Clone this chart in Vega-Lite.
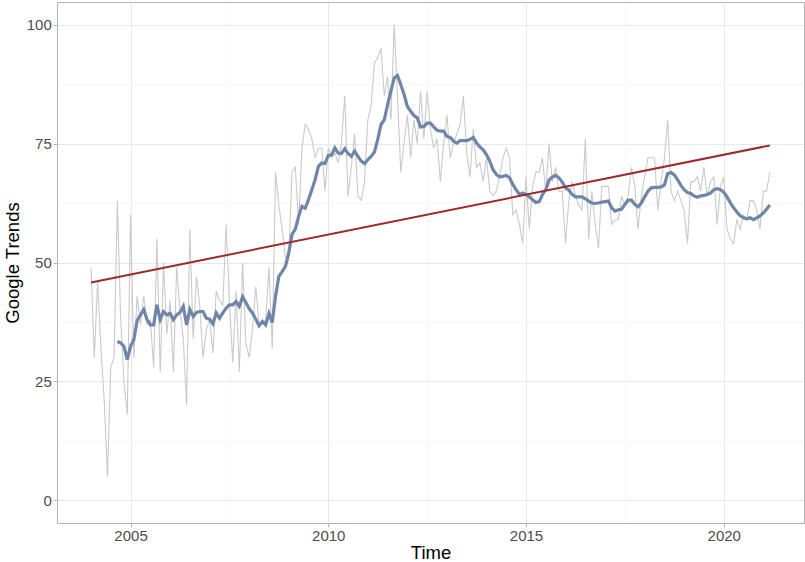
{
  "$schema": "https://vega.github.io/schema/vega-lite/v6.json",
  "width": 747,
  "height": 521,
  "autosize": {"type": "none"},
  "padding": {"left": 57, "top": 2, "right": 1, "bottom": 39},
  "background": "white",
  "config": {
    "view": {"stroke": "#B3B3B3", "strokeWidth": 1},
    "font": "Liberation Sans",
    "axis": {
      "domain": false,
      "labelFont": "Liberation Sans",
      "titleFont": "Liberation Sans",
      "labelFontSize": 15,
      "labelColor": "#4D4D4D",
      "titleFontSize": 18.5,
      "titleFontWeight": "normal",
      "titleColor": "#000000",
      "tickColor": "#B3B3B3",
      "tickSize": 3.7,
      "gridColor": "#E5E5E5"
    }
  },
  "datasets": {
    "series": [
      {"t": 2004.0, "y": 49}, {"t": 2004.0833, "y": 30}, {"t": 2004.1667, "y": 46}, {"t": 2004.25, "y": 32},
      {"t": 2004.3333, "y": 21}, {"t": 2004.4167, "y": 5}, {"t": 2004.5, "y": 28}, {"t": 2004.5833, "y": 30},
      {"t": 2004.6667, "y": 63, "m": 33.4}, {"t": 2004.75, "y": 38, "m": 33.1}, {"t": 2004.8333, "y": 25, "m": 32.4}, {"t": 2004.9167, "y": 18, "m": 29.6},
      {"t": 2005.0, "y": 60, "m": 32.4}, {"t": 2005.0833, "y": 30, "m": 33.8}, {"t": 2005.1667, "y": 43, "m": 37.8}, {"t": 2005.25, "y": 37, "m": 39},
      {"t": 2005.3333, "y": 43, "m": 40.1}, {"t": 2005.4167, "y": 37, "m": 38}, {"t": 2005.5, "y": 38, "m": 36.9}, {"t": 2005.5833, "y": 28, "m": 36.9},
      {"t": 2005.6667, "y": 55, "m": 41.1}, {"t": 2005.75, "y": 27, "m": 38}, {"t": 2005.8333, "y": 50, "m": 39.7}, {"t": 2005.9167, "y": 35, "m": 39},
      {"t": 2006.0, "y": 42, "m": 39.3}, {"t": 2006.0833, "y": 27, "m": 38}, {"t": 2006.1667, "y": 49, "m": 39}, {"t": 2006.25, "y": 40, "m": 39.5},
      {"t": 2006.3333, "y": 34, "m": 40.8}, {"t": 2006.4167, "y": 20, "m": 36.9}, {"t": 2006.5, "y": 57, "m": 40.1}, {"t": 2006.5833, "y": 34, "m": 38.7},
      {"t": 2006.6667, "y": 47, "m": 39.5}, {"t": 2006.75, "y": 41, "m": 39.7}, {"t": 2006.8333, "y": 30, "m": 39.7}, {"t": 2006.9167, "y": 36, "m": 38.3},
      {"t": 2007.0, "y": 38, "m": 38.1}, {"t": 2007.0833, "y": 31, "m": 37.1}, {"t": 2007.1667, "y": 44, "m": 39.4}, {"t": 2007.25, "y": 42, "m": 38.3},
      {"t": 2007.3333, "y": 41, "m": 39.4}, {"t": 2007.4167, "y": 58, "m": 40.4}, {"t": 2007.5, "y": 42, "m": 41.1}, {"t": 2007.5833, "y": 29, "m": 41.1},
      {"t": 2007.6667, "y": 44, "m": 41.8}, {"t": 2007.75, "y": 27, "m": 40.8}, {"t": 2007.8333, "y": 50, "m": 42.8}, {"t": 2007.9167, "y": 33, "m": 41.6},
      {"t": 2008.0, "y": 30, "m": 40.3}, {"t": 2008.0833, "y": 36, "m": 39.4}, {"t": 2008.1667, "y": 45, "m": 38.1}, {"t": 2008.25, "y": 37, "m": 36.7},
      {"t": 2008.3333, "y": 37, "m": 37.6}, {"t": 2008.4167, "y": 38, "m": 36.9}, {"t": 2008.5, "y": 49, "m": 39.3}, {"t": 2008.5833, "y": 32, "m": 37.4},
      {"t": 2008.6667, "y": 69, "m": 42.9}, {"t": 2008.75, "y": 62, "m": 47.1}, {"t": 2008.8333, "y": 57, "m": 48.1}, {"t": 2008.9167, "y": 51, "m": 49.2},
      {"t": 2009.0, "y": 51, "m": 52}, {"t": 2009.0833, "y": 69, "m": 55.9}, {"t": 2009.1667, "y": 70, "m": 57}, {"t": 2009.25, "y": 58, "m": 59.7},
      {"t": 2009.3333, "y": 74, "m": 61.8}, {"t": 2009.4167, "y": 79, "m": 61.4}, {"t": 2009.5, "y": 78, "m": 63.2}, {"t": 2009.5833, "y": 76, "m": 65.3},
      {"t": 2009.6667, "y": 72, "m": 67.4}, {"t": 2009.75, "y": 74, "m": 70.2}, {"t": 2009.8333, "y": 74, "m": 70.9}, {"t": 2009.9167, "y": 65, "m": 70.8},
      {"t": 2010.0, "y": 74, "m": 72.5}, {"t": 2010.0833, "y": 72, "m": 72.6}, {"t": 2010.1667, "y": 73, "m": 74.1}, {"t": 2010.25, "y": 71, "m": 73},
      {"t": 2010.3333, "y": 75, "m": 72.9}, {"t": 2010.4167, "y": 85, "m": 73.9}, {"t": 2010.5, "y": 64, "m": 72.9}, {"t": 2010.5833, "y": 70, "m": 72.3},
      {"t": 2010.6667, "y": 77, "m": 73.4}, {"t": 2010.75, "y": 64, "m": 72.3}, {"t": 2010.8333, "y": 63, "m": 71.3}, {"t": 2010.9167, "y": 67, "m": 70.8},
      {"t": 2011.0, "y": 80, "m": 71.6}, {"t": 2011.0833, "y": 83, "m": 72.3}, {"t": 2011.1667, "y": 92, "m": 73.2}, {"t": 2011.25, "y": 93, "m": 75.8},
      {"t": 2011.3333, "y": 95, "m": 79}, {"t": 2011.4167, "y": 85, "m": 80}, {"t": 2011.5, "y": 89, "m": 83.2}, {"t": 2011.5833, "y": 80, "m": 86},
      {"t": 2011.6667, "y": 100, "m": 88.8}, {"t": 2011.75, "y": 85, "m": 89.3}, {"t": 2011.8333, "y": 69, "m": 87.4}, {"t": 2011.9167, "y": 75, "m": 85.3},
      {"t": 2012.0, "y": 81, "m": 82.8}, {"t": 2012.0833, "y": 72, "m": 81.8}, {"t": 2012.1667, "y": 80, "m": 80.9}, {"t": 2012.25, "y": 75, "m": 80.4},
      {"t": 2012.3333, "y": 86, "m": 78.5}, {"t": 2012.4167, "y": 76, "m": 78.6}, {"t": 2012.5, "y": 86, "m": 79.3}, {"t": 2012.5833, "y": 78, "m": 79.3},
      {"t": 2012.6667, "y": 74, "m": 78.5}, {"t": 2012.75, "y": 76, "m": 77.8}, {"t": 2012.8333, "y": 67, "m": 77.6}, {"t": 2012.9167, "y": 75, "m": 77.6},
      {"t": 2013.0, "y": 81, "m": 76.5}, {"t": 2013.0833, "y": 72, "m": 76.3}, {"t": 2013.1667, "y": 75, "m": 75.5}, {"t": 2013.25, "y": 77, "m": 75.1},
      {"t": 2013.3333, "y": 79, "m": 75.6}, {"t": 2013.4167, "y": 85, "m": 75.6}, {"t": 2013.5, "y": 73, "m": 75.6}, {"t": 2013.5833, "y": 68, "m": 75.9},
      {"t": 2013.6667, "y": 78, "m": 76.3}, {"t": 2013.75, "y": 70, "m": 75.1}, {"t": 2013.8333, "y": 71, "m": 74.3}, {"t": 2013.9167, "y": 67, "m": 73.7},
      {"t": 2014.0, "y": 72, "m": 72.7}, {"t": 2014.0833, "y": 65, "m": 71.3}, {"t": 2014.1667, "y": 64, "m": 69.5}, {"t": 2014.25, "y": 65, "m": 68.5},
      {"t": 2014.3333, "y": 68, "m": 68}, {"t": 2014.4167, "y": 72, "m": 68.1}, {"t": 2014.5, "y": 74, "m": 68.3}, {"t": 2014.5833, "y": 72, "m": 67.8},
      {"t": 2014.6667, "y": 60, "m": 66.4}, {"t": 2014.75, "y": 61, "m": 65.3}, {"t": 2014.8333, "y": 58, "m": 64.3}, {"t": 2014.9167, "y": 54, "m": 64.6},
      {"t": 2015.0, "y": 68, "m": 64.3}, {"t": 2015.0833, "y": 57, "m": 63.8}, {"t": 2015.1667, "y": 66, "m": 63.2}, {"t": 2015.25, "y": 69, "m": 62.6},
      {"t": 2015.3333, "y": 69, "m": 62.8}, {"t": 2015.4167, "y": 72, "m": 64.3}, {"t": 2015.5, "y": 65, "m": 65.3}, {"t": 2015.5833, "y": 75, "m": 67.3},
      {"t": 2015.6667, "y": 67, "m": 68}, {"t": 2015.75, "y": 70, "m": 68.3}, {"t": 2015.8333, "y": 65, "m": 67.8}, {"t": 2015.9167, "y": 65, "m": 66.9},
      {"t": 2016.0, "y": 54, "m": 65.7}, {"t": 2016.0833, "y": 63, "m": 65.2}, {"t": 2016.1667, "y": 67, "m": 64.3}, {"t": 2016.25, "y": 64, "m": 63.8},
      {"t": 2016.3333, "y": 62, "m": 63.8}, {"t": 2016.4167, "y": 61, "m": 63.8}, {"t": 2016.5, "y": 76, "m": 63.4}, {"t": 2016.5833, "y": 55, "m": 62.9},
      {"t": 2016.6667, "y": 65, "m": 62.5}, {"t": 2016.75, "y": 58, "m": 62.4}, {"t": 2016.8333, "y": 53, "m": 62.5}, {"t": 2016.9167, "y": 66, "m": 62.7},
      {"t": 2017.0, "y": 66, "m": 62.8}, {"t": 2017.0833, "y": 66, "m": 62.9}, {"t": 2017.1667, "y": 58, "m": 61.5}, {"t": 2017.25, "y": 59, "m": 60.8},
      {"t": 2017.3333, "y": 59, "m": 61.1}, {"t": 2017.4167, "y": 64, "m": 61.2}, {"t": 2017.5, "y": 62, "m": 62.2}, {"t": 2017.5833, "y": 64, "m": 63.1},
      {"t": 2017.6667, "y": 70, "m": 63.1}, {"t": 2017.75, "y": 66, "m": 62.2}, {"t": 2017.8333, "y": 57, "m": 61.7}, {"t": 2017.9167, "y": 64, "m": 62.5},
      {"t": 2018.0, "y": 68, "m": 63.8}, {"t": 2018.0833, "y": 72, "m": 65}, {"t": 2018.1667, "y": 72, "m": 65.7}, {"t": 2018.25, "y": 72, "m": 65.8},
      {"t": 2018.3333, "y": 61, "m": 65.8}, {"t": 2018.4167, "y": 67, "m": 65.9}, {"t": 2018.5, "y": 72, "m": 66.3}, {"t": 2018.5833, "y": 80, "m": 68.7},
      {"t": 2018.6667, "y": 65, "m": 68.9}, {"t": 2018.75, "y": 63, "m": 68.4}, {"t": 2018.8333, "y": 65, "m": 67.4}, {"t": 2018.9167, "y": 63, "m": 66.2},
      {"t": 2019.0, "y": 61, "m": 65.3}, {"t": 2019.0833, "y": 54, "m": 64.7}, {"t": 2019.1667, "y": 67, "m": 64.5}, {"t": 2019.25, "y": 67, "m": 64},
      {"t": 2019.3333, "y": 68, "m": 63.7}, {"t": 2019.4167, "y": 65, "m": 64}, {"t": 2019.5, "y": 70, "m": 64.1}, {"t": 2019.5833, "y": 64, "m": 64.3},
      {"t": 2019.6667, "y": 67, "m": 64.6}, {"t": 2019.75, "y": 68, "m": 65.3}, {"t": 2019.8333, "y": 58, "m": 65.5}, {"t": 2019.9167, "y": 66, "m": 65.3},
      {"t": 2020.0, "y": 68, "m": 64.8}, {"t": 2020.0833, "y": 57, "m": 63.8}, {"t": 2020.1667, "y": 55, "m": 62.6}, {"t": 2020.25, "y": 54, "m": 61.5},
      {"t": 2020.3333, "y": 59, "m": 60.6}, {"t": 2020.4167, "y": 57, "m": 59.8}, {"t": 2020.5, "y": 60, "m": 59.4}, {"t": 2020.5833, "y": 59, "m": 59.2},
      {"t": 2020.6667, "y": 63, "m": 59.4}, {"t": 2020.75, "y": 63, "m": 59}, {"t": 2020.8333, "y": 61, "m": 59.4}, {"t": 2020.9167, "y": 57, "m": 59.8},
      {"t": 2021.0, "y": 65, "m": 60.4}, {"t": 2021.0833, "y": 65, "m": 61.2}, {"t": 2021.1667, "y": 69, "m": 62.1}
    ],
    "fit": [
      {"t": 2004.0, "f": 45.8},
      {"t": 2021.1667, "f": 74.6}
    ]
  },
  "encoding": {
    "x": {
      "field": "t",
      "type": "quantitative",
      "title": "Time",
      "scale": {"domain": [2003.14, 2022.03], "nice": false, "zero": false},
      "axis": {
        "values": [2005, 2007.5, 2010, 2012.5, 2015, 2017.5, 2020],
        "labelExpr": "datum.value % 5 === 0 ? format(datum.value, 'd') : ''",
        "labelPadding": 1.5,
        "titlePadding": 0,
        "gridWidth": {"condition": {"test": "datum.value % 5 === 0", "value": 0.9}, "value": 0.5},
        "gridColor": {"condition": {"test": "datum.value % 5 === 0", "value": "#E6E6E6"}, "value": "#EEEEEE"},
        "tickOpacity": {"condition": {"test": "datum.value % 5 === 0", "value": 1}, "value": 0}
      }
    }
  },
  "layer": [
    {
      "data": {"name": "series"},
      "mark": {"type": "line", "color": "#CACACA", "strokeWidth": 1.1},
      "encoding": {
        "y": {
          "field": "y",
          "type": "quantitative",
          "title": "Google Trends",
          "scale": {"domain": [-4.75, 104.75], "nice": false, "zero": false},
          "axis": {
            "values": [0, 12.5, 25, 37.5, 50, 62.5, 75, 87.5, 100],
            "labelExpr": "datum.value % 25 === 0 ? format(datum.value, 'd') : ''",
            "labelPadding": 2,
            "titlePadding": 4,
            "gridWidth": {"condition": {"test": "datum.value % 25 === 0", "value": 0.9}, "value": 0.5},
            "gridColor": {"condition": {"test": "datum.value % 25 === 0", "value": "#E6E6E6"}, "value": "#EEEEEE"},
            "tickOpacity": {"condition": {"test": "datum.value % 25 === 0", "value": 1}, "value": 0}
          }
        }
      }
    },
    {
      "data": {"name": "series"},
      "transform": [{"filter": "isValid(datum.m)"}],
      "mark": {"type": "line", "color": "#6F86A8", "strokeWidth": 3.2},
      "encoding": {"y": {"field": "m", "type": "quantitative"}}
    },
    {
      "data": {"name": "fit"},
      "mark": {"type": "line", "color": "#9B2B2D", "strokeWidth": 2},
      "encoding": {"y": {"field": "f", "type": "quantitative"}}
    }
  ]
}
